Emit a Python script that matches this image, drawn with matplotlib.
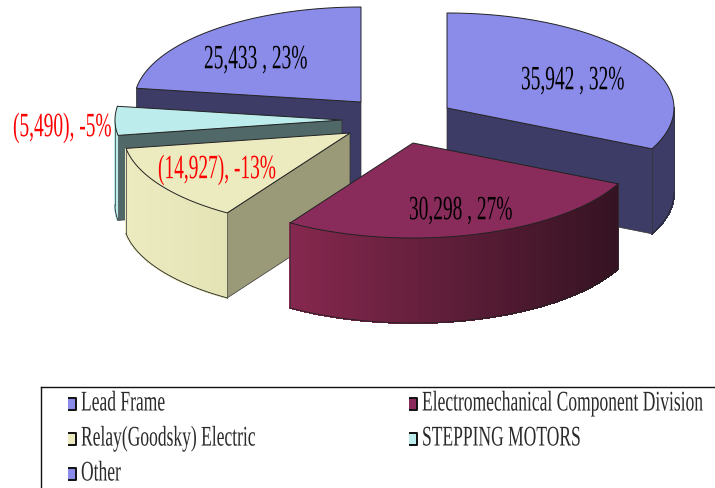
import numpy as np
import matplotlib
matplotlib.use("Agg")
import matplotlib.pyplot as plt
from matplotlib.patheffects import AbstractPathEffect
from matplotlib.transforms import Affine2D
from matplotlib.colors import to_rgb

# data
names = ["Lead Frame", "Electromechanical Component Division",
         "Relay(Goodsky) Electric", "STEPPING MOTORS", "Other"]
values = [35942, 30298, -14927, -5490, 25433]
percents = [32, 27, -13, -5, 23]

# colours
top_colors = ["#8b8be9", "#8a2c5b", "#ecebc0", "#bdecec", "#8b8be9"]
wall_colors = ["#3d3c66", "#3d3c66", "#9a9a79", "#506868", "#3d3c66"]
rim_left = ["#3d3c66", "#86284f", "#e3e3b6", "#bdecec", "#3d3c66"]
rim_right = ["#3d3c66", "#351322", "#ecebc0", "#bdecec", "#3d3c66"]

# layout, in pixels
apex = [(447, 108), (413, 143), (350, 133), (342, 120), (361, 102)]
label_pos = [(521, 81), (409, 211), (158, 170), (13, 128), (204, 60)]
rx, ry, depth = 227, 95, 85

plt.rcParams["font.family"] = ["Liberation Serif"]


class Squeeze(AbstractPathEffect):
    # the chart's text is stretched tall and narrow
    def __init__(self, sx, dx=0):
        super().__init__()
        self.sx = sx
        self.dx = dx

    def draw_path(self, renderer, gc, tpath, affine, rgbFace=None):
        tr = Affine2D().scale(self.sx, 1) + affine + Affine2D().translate(self.dx, 0)
        renderer.draw_path(gc, tpath, tr, rgbFace)


def rim(center, t):
    return center[0] + rx * np.sin(t), center[1] - ry * np.cos(t)


def draw_rim(center, t0, t1, left, right, z):
    # outer wall as thin strips so the shading runs left to right
    ts = np.linspace(t0, t1, 60)
    xs, ys = rim(center, ts)
    span = xs.max() - xs.min()
    c0, c1 = np.array(to_rgb(left)), np.array(to_rgb(right))
    for i in range(len(ts) - 1):
        f = (0.5 * (xs[i] + xs[i + 1]) - xs.min()) / span
        col = c0 + (c1 - c0) * f
        ax.fill([xs[i], xs[i + 1], xs[i + 1], xs[i]],
                [ys[i], ys[i + 1], ys[i + 1] + depth, ys[i] + depth],
                color=col, lw=0.8, antialiased=False, zorder=z)
    ax.plot(xs, ys + depth, color="#222222", lw=0.6, zorder=z + 1)
    ax.plot([xs[0], xs[0]], [ys[0], ys[0] + depth], color="#333333", lw=0.5, zorder=z + 1)
    ax.plot([xs[-1], xs[-1]], [ys[-1], ys[-1] + depth], color="#333333", lw=0.5, zorder=z + 1)


def draw_wall(center, t, color, z):
    x, y = rim(center, t)
    ax.fill([center[0], x, x, center[0]], [center[1], y, y + depth, center[1] + depth],
            facecolor=color, edgecolor="#333333", lw=0.5, zorder=z)


def draw_top(center, t0, t1, color, z):
    ts = np.linspace(t0, t1, 120)
    xs, ys = rim(center, ts)
    ax.fill(np.r_[center[0], xs], np.r_[center[1], ys],
            facecolor=color, edgecolor="#222222", lw=0.7, zorder=z)


fig = plt.figure(figsize=(7.15, 4.88), dpi=100)
ax = fig.add_axes([0, 0, 1, 1])
ax.set_xlim(0, 715)
ax.set_ylim(488, 0)
ax.axis("off")

sizes = np.abs(values)
edges = np.r_[0, np.cumsum(sizes)] / sizes.sum() * 2 * np.pi
quarter = np.pi / 2
three_q = 3 * np.pi / 2

# back to front: Other, Stepping, Relay, Lead Frame, Electromechanical
for k, i in enumerate([4, 3, 2, 0, 1]):
    t0, t1 = edges[i], edges[i + 1]
    z = 10 + k * 10
    if i == 4:
        draw_wall(apex[i], t0, wall_colors[i], z)
    elif i == 3:
        draw_wall(apex[i], t0, wall_colors[i], z)
        draw_rim(apex[i], t0, three_q, rim_left[i], rim_right[i], z)
    elif i == 2:
        draw_wall(apex[i], t0, wall_colors[i], z)
        draw_rim(apex[i], t0, t1, rim_right[i], rim_left[i], z)
    elif i == 0:
        draw_wall(apex[i], t1, wall_colors[i], z)
        draw_rim(apex[i], quarter, t1, rim_left[i], rim_right[i], z)
    else:
        draw_rim(apex[i], t1, t0, rim_left[i], rim_right[i], z)
    draw_top(apex[i], t0, t1, top_colors[i], z + 2)

# slice labels
for i in range(len(values)):
    if values[i] < 0:
        s = f"({abs(values[i]):,}), {percents[i]}%"
        col = "#ff0000"
    else:
        s = f"{values[i]:,} , {percents[i]}%"
        col = "#000000"
    ax.text(label_pos[i][0], label_pos[i][1], s, color=col, fontsize=24.5,
            ha="left", va="center", zorder=100, path_effects=[Squeeze(0.57)])

# legend box, open at the right and bottom edges
ax.plot([41, 41], [488, 386.5], color="#111111", lw=1.0)
ax.plot([41, 715], [386.5, 386.5], color="#111111", lw=1.0)

legend_x = [72, 413, 72, 413, 72]
legend_y = [404, 404, 439, 439, 474]
legend_dx = [0, 175, 0, 0, 0]
box = [(-0.7, -1), (0.7, -1), (0.7, 1), (-0.7, 1)]
for i in range(len(names)):
    ax.plot(legend_x[i], legend_y[i], marker=box, ms=8, mfc=top_colors[i],
            mec="#111111", mew=1.4, ls="none")
    ax.text(legend_x[i] + 9 - legend_dx[i], legend_y[i], names[i], color="#2a2a2a", fontsize=20.5,
            ha="left", va="center", path_effects=[Squeeze(0.615, legend_dx[i])])

fig.savefig("out.png", dpi=100)
